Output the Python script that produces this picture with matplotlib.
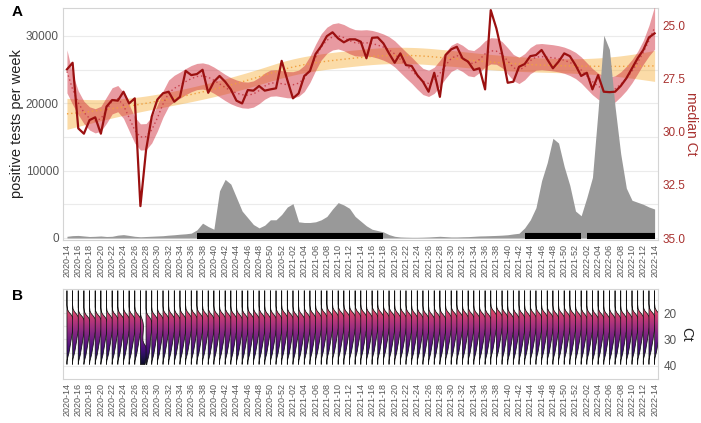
import numpy as np
import matplotlib
matplotlib.use('Agg')
import matplotlib.pyplot as plt
from matplotlib.patches import Polygon

plt.rcParams['font.family'] = ['Liberation Sans', 'DejaVu Sans']

# ---- data -------------------------------------------------------------
weeks = ([f'2020-{w:02d}' for w in range(14, 53)] +
         [f'2021-{w:02d}' for w in range(1, 53)] +
         [f'2022-{w:02d}' for w in range(1, 15)])

median_ct = [
    27.08, 26.77, 29.85, 30.10, 29.46, 29.33, 30.10, 28.83, 28.52, 28.55,
    28.13, 28.68, 28.44, 33.50, 30.87, 29.30, 28.50, 28.20, 28.13, 28.60,
    28.37, 27.15, 27.35, 27.30, 27.10, 28.18, 27.66, 27.39, 27.66, 28.02,
    28.55, 28.68, 28.05, 28.08, 27.86, 28.08, 28.02, 27.97, 26.68, 27.58,
    28.44, 28.21, 27.39, 27.16, 26.36, 25.99, 25.52, 25.34, 25.63, 25.81,
    25.67, 25.67, 25.78, 26.56, 25.60, 25.58, 25.86, 26.33, 26.77, 26.33,
    26.88, 26.92, 27.35, 27.66, 28.13, 27.24, 28.37, 26.41, 26.14, 26.02,
    26.56, 26.72, 27.11, 27.03, 28.02, 24.30, 25.16, 26.33, 27.71, 27.66,
    26.96, 26.83, 26.46, 26.41, 26.17, 26.61, 27.03, 26.72, 26.33, 26.46,
    26.88, 27.39, 27.24, 28.02, 27.35, 28.13, 28.15, 28.13, 27.86, 27.50,
    27.03, 26.56, 26.17, 25.58, 25.39]

positive_tests = [
    250, 350, 380, 300, 220, 250, 300, 220, 250, 420,
    500, 380, 250, 180, 220, 260, 300, 340, 420, 480,
    560, 620, 720, 1200, 2200, 1700, 1300, 7000, 8700, 8000,
    6000, 4000, 3000, 2000, 1500, 1900, 2700, 2700, 3500, 4600,
    5100, 2400, 2300, 2300, 2400, 2700, 3200, 4300, 5250, 4900,
    4400, 3200, 2500, 1800, 1300, 1100, 900, 500, 250, 150,
    120, 100, 100, 120, 150, 200, 250, 200, 150, 150,
    180, 200, 250, 300, 320, 350, 380, 420, 480, 600,
    700, 1500, 2700, 4500, 8500, 11200, 14800, 14100, 10600, 7800,
    4000, 3300, 6000, 9000, 19000, 30100, 28000, 19500, 12500, 7400,
    5600, 5300, 5000, 4600, 4300]

periods = [('2020-37', '2021-18'), ('2021-43', '2022-01'), ('2022-02', '2022-14')]

# typical weekly Ct distribution (relative half-violin width)
profile_ct = [17.0, 18.5, 19.5, 20.5, 21.5, 22.5, 23.5, 25.0, 27.0, 29.0,
              31.0, 33.0, 35.0, 36.5, 37.5, 38.5]
profile_w = [0.0, 0.08, 0.3, 0.7, 1.0, 1.15, 1.2, 1.12, 0.98, 0.82,
             0.68, 0.52, 0.36, 0.18, 0.06, 0.0]
ct_min, ct_max = 11.5, 39.5

# ---- helpers ----------------------------------------------------------
def loess(x, y, span, deg=2):
    n = len(x)
    q = int(np.floor(n * span))
    L = np.zeros((n, n))
    for k, x0 in enumerate(x):
        d = np.abs(x - x0)
        h = np.sort(d)[q - 1] * 1.0001
        w = np.clip(1 - (d / h) ** 3, 0, None) ** 3
        X = np.vander(x - x0, deg + 1, increasing=True)
        XtW = X.T * w
        L[k] = np.linalg.solve(XtW @ X, XtW)[0]
    fit = L @ y
    res = y - fit
    sigma = np.sqrt(res @ res / (n - np.trace(L)))
    se = sigma * np.sqrt((L ** 2).sum(1))
    return fit, se


x = np.arange(len(weeks), dtype=float)
ct = np.array(median_ct)
tests = np.array(positive_tests)

DARKRED = '#9b1010'
AXRED = '#a8312f'
GRID = '#ebebeb'
BORDER = '#d4d4d4'
TXT = '#555555'

fig = plt.figure(figsize=(7.01, 4.23), dpi=100)
fig.patch.set_facecolor('white')

xlim = (-0.7, 104.6)
posA = [63 / 701, 1 - 240 / 423, 595 / 701, 232 / 423]
posB = [63 / 701, 1 - 379 / 423, 595 / 701, 90 / 423]

# ---- panel A ----------------------------------------------------------
ax = fig.add_axes(posA)
ax.set_xlim(*xlim)
ax.set_ylim(-300, 34150)
ax.set_yticks([0, 10000, 20000, 30000])
ax.set_yticks([5000, 15000, 25000], minor=True)
ax.grid(axis='y', which='both', color=GRID, lw=0.8)
ax.set_xticks(x[::2])
ax.set_xticklabels(weeks[::2], rotation=90, fontsize=6.5, color=TXT)
ax.tick_params(axis='both', which='both', length=0, pad=3)
ax.tick_params(axis='y', labelsize=8.5, colors=TXT)
ax.set_ylabel('positive tests per week', fontsize=10.5, color='#222222', labelpad=1)
for s in ax.spines.values():
    s.set_color(BORDER)
    s.set_linewidth(0.8)

# ribbons (Ct scale)
ax_rib = ax.twinx()
ax_rib.set_ylim(35.09, 24.2)
fit_o, se_o = loess(x, ct, 0.75)
fit_r, se_r = loess(x, ct, 0.15)
ax_rib.fill_between(x, fit_o - 1.98 * se_o, fit_o + 1.98 * se_o,
                    color='#f5a623', alpha=0.4, lw=0)
ax_rib.plot(x, fit_o, color='#f0a040', lw=1.0, ls=(0, (1, 2)))
ax_rib.fill_between(x, fit_r - 1.98 * se_r, fit_r + 1.98 * se_r,
                    color='#cc2030', alpha=0.45, lw=0)
ax_rib.plot(x, fit_r, color='#c8404a', lw=1.0, ls=(0, (1, 2)))
ax_rib.set_yticks([25, 27.5, 30, 32.5, 35])
ax_rib.set_yticklabels(['25.0', '27.5', '30.0', '32.5', '35.0'])
ax_rib.tick_params(axis='y', length=0, pad=3, labelsize=8.5, colors=AXRED)
ax_rib.set_ylabel('median Ct', fontsize=10, color=AXRED, rotation=-90,
                  labelpad=9)
for s in ax_rib.spines.values():
    s.set_visible(False)

# tests area + black period bars
ax_area = ax.twinx()
ax_area.set_ylim(ax.get_ylim())
ax_area.axis('off')
ax_area.fill_between(x, 0, tests, color='#999999', lw=0)
for a, b in periods:
    ax_area.hlines(250, weeks.index(a), weeks.index(b), color='black', lw=4.4)

# median Ct line
ax_line = ax.twinx()
ax_line.set_ylim(ax_rib.get_ylim())
ax_line.axis('off')
ax_line.plot(x, ct, color=DARKRED, lw=1.6)

ax.set_zorder(0)
ax_rib.set_zorder(1)
ax_area.set_zorder(2)
ax_line.set_zorder(3)
for a_ in (ax, ax_rib, ax_area, ax_line):
    a_.patch.set_visible(False)

# ---- panel B ----------------------------------------------------------
axb = fig.add_axes(posB)
axb.set_xlim(*xlim)
axb.set_ylim(45, 10.9)
axb.yaxis.tick_right()
axb.yaxis.set_label_position('right')
axb.set_yticks([20, 30, 40])
axb.set_yticks([15, 25, 35], minor=True)
axb.grid(axis='y', which='both', color=GRID, lw=0.8)
axb.set_xticks(x[::2])
axb.set_xticklabels(weeks[::2], rotation=90, fontsize=6.5, color=TXT)
axb.tick_params(axis='both', which='both', length=0, pad=3)
axb.tick_params(axis='y', labelsize=8.5, colors=TXT, pad=4)
axb.set_ylabel('Ct', fontsize=10.5, color='#222222', rotation=-90, labelpad=12)
for s in axb.spines.values():
    s.set_color(BORDER)
    s.set_linewidth(0.8)

yy = np.linspace(ct_min, ct_max, 160)
grad = np.linspace(8, 46, 300)[:, None]
for i in range(len(weeks)):
    # weeks with a high median carry extra mass in the high-Ct tail
    shift = 0.3 * (ct[i] - 27)
    a_high = min(0.55, max(0.0, (ct[i] - 30.5) / 4.0))
    w_low = np.interp(yy - shift, profile_ct, profile_w, left=0, right=0)
    w_high = np.interp(yy - shift - 10, profile_ct, profile_w, left=0, right=0)
    w = (1 - a_high) * w_low + a_high * 1.5 * w_high
    verts = [(i, ct_min)] + list(zip(i + w, yy)) + [(i, ct_max)]
    poly = Polygon(verts, closed=True, facecolor='none', edgecolor='#111111',
                   lw=0.55, zorder=2 + 2 * i * 1e-3 + 1e-3)
    axb.add_patch(poly)
    im = axb.imshow(grad, extent=(i, i + 1.8, 8, 46), origin='lower',
                    cmap='magma_r', vmin=3.8, vmax=42.3, aspect='auto',
                    interpolation='bilinear', zorder=2 + 2 * i * 1e-3)
    im.set_clip_path(poly)
axb.set_xlim(*xlim)
axb.set_ylim(45, 10.9)

fig.text(12 / 701, 1 - 12 / 423, 'A', fontsize=11, fontweight='bold', va='center')
fig.text(12 / 701, 1 - 296 / 423, 'B', fontsize=11, fontweight='bold', va='center')

fig.savefig('out.png', dpi=100, facecolor='white')
